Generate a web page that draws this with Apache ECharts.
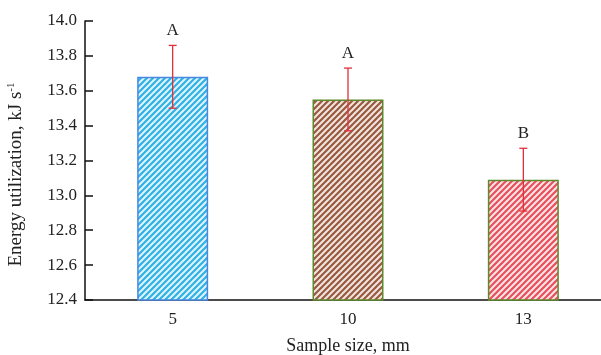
<!DOCTYPE html>
<html>
<head>
<meta charset="utf-8">
<script src="https://cdn.jsdelivr.net/npm/echarts@6/dist/echarts.min.js"></script>
<style>
  html, body { margin: 0; padding: 0; background: #fff; }
  #chart { width: 601px; height: 355px; }
</style>
</head>
<body>
<div id="chart"></div>
<script>
// data
var sizes = ['5', '10', '13'];
var energy = [13.68, 13.55, 13.09];
var errs = [0.18, 0.18, 0.18];
var letters = ['A', 'A', 'B'];

var fillColors = ['#2fb2e6', '#9a5a3e', '#e8505c'];
var borderColors = ['#4a86e0', '#5d8a2c', '#5d8a2c'];

// hatch pattern like the figure
function hatch(color) {
  var c = document.createElement('canvas');
  c.width = 6; c.height = 6;
  var ctx = c.getContext('2d');
  ctx.fillStyle = color;
  ctx.fillRect(0, 0, 6, 6);
  ctx.strokeStyle = 'rgba(255,255,255,0.85)';
  ctx.lineWidth = 2;
  ctx.beginPath();
  ctx.moveTo(-1, 7); ctx.lineTo(7, -1);
  ctx.moveTo(-4, 4); ctx.lineTo(4, -4);
  ctx.moveTo(2, 10); ctx.lineTo(10, 2);
  ctx.stroke();
  return { image: c, repeat: 'repeat' };
}

var barData = energy.map(function (v, i) {
  return {
    value: v,
    itemStyle: { color: hatch(fillColors[i]), borderColor: borderColors[i], borderWidth: 1.5 }
  };
});

var errData = energy.map(function (v, i) {
  return [i, v - errs[i], v + errs[i], letters[i]];
});

var chart = echarts.init(document.getElementById('chart'));
var font = 'Liberation Serif';

chart.setOption({
  animation: false,
  grid: { left: 85, right: -10, top: 21, bottom: 55, outerBoundsMode: 'none', containLabel: false },
  xAxis: {
    type: 'category',
    data: sizes,
    name: 'Sample size, mm',
    nameLocation: 'middle',
    nameGap: 37,
    nameTextStyle: { fontFamily: font, fontSize: 18, color: '#222' },
    axisLine: { lineStyle: { color: '#111', width: 1.5 } },
    axisTick: { inside: true, length: 5, lineStyle: { color: '#111' } },
    axisLabel: { fontFamily: font, fontSize: 17, color: '#222', margin: 11 }
  },
  yAxis: {
    type: 'value',
    min: 12.4,
    max: 14.0,
    interval: 0.2,
    name: '{n|Energy utilization, kJ s}{s|-1}',
    nameLocation: 'middle',
    nameGap: 58,
    nameTextStyle: {
      padding: [0, 28, 0, 0],
      rich: {
        n: { fontFamily: font, fontSize: 19, color: '#222' },
        s: { fontFamily: font, fontSize: 11, color: '#222', verticalAlign: 'top', padding: [0, 0, 10, 0] }
      }
    },
    splitLine: { show: false },
    axisLine: { show: true, lineStyle: { color: '#111', width: 1.5 } },
    axisTick: { show: true, inside: true, length: 8, lineStyle: { color: '#111', width: 1.5 } },
    axisLabel: {
      fontFamily: font, fontSize: 17, color: '#222', margin: 8,
      formatter: function (v) { return v.toFixed(1); }
    }
  },
  series: [
    {
      type: 'bar',
      data: barData,
      barWidth: 71
    },
    {
      type: 'custom',
      data: errData,
      z: 10,
      renderItem: function (params, api) {
        var x = api.value(0);
        var lo = api.coord([x, api.value(1)]);
        var hi = api.coord([x, api.value(2)]);
        var cap = 4;
        var st = { stroke: '#e0303a', lineWidth: 1.3 };
        return {
          type: 'group',
          children: [
            { type: 'line', shape: { x1: lo[0], y1: lo[1], x2: hi[0], y2: hi[1] }, style: st },
            { type: 'line', shape: { x1: lo[0] - cap, y1: lo[1], x2: lo[0] + cap, y2: lo[1] }, style: st },
            { type: 'line', shape: { x1: hi[0] - cap, y1: hi[1], x2: hi[0] + cap, y2: hi[1] }, style: st },
            {
              type: 'text',
              style: {
                x: hi[0], y: hi[1] - 6,
                text: api.value(3),
                align: 'center', verticalAlign: 'bottom',
                fontFamily: font, fontSize: 17, fill: '#222'
              }
            }
          ]
        };
      }
    }
  ]
});
</script>
</body>
</html>
